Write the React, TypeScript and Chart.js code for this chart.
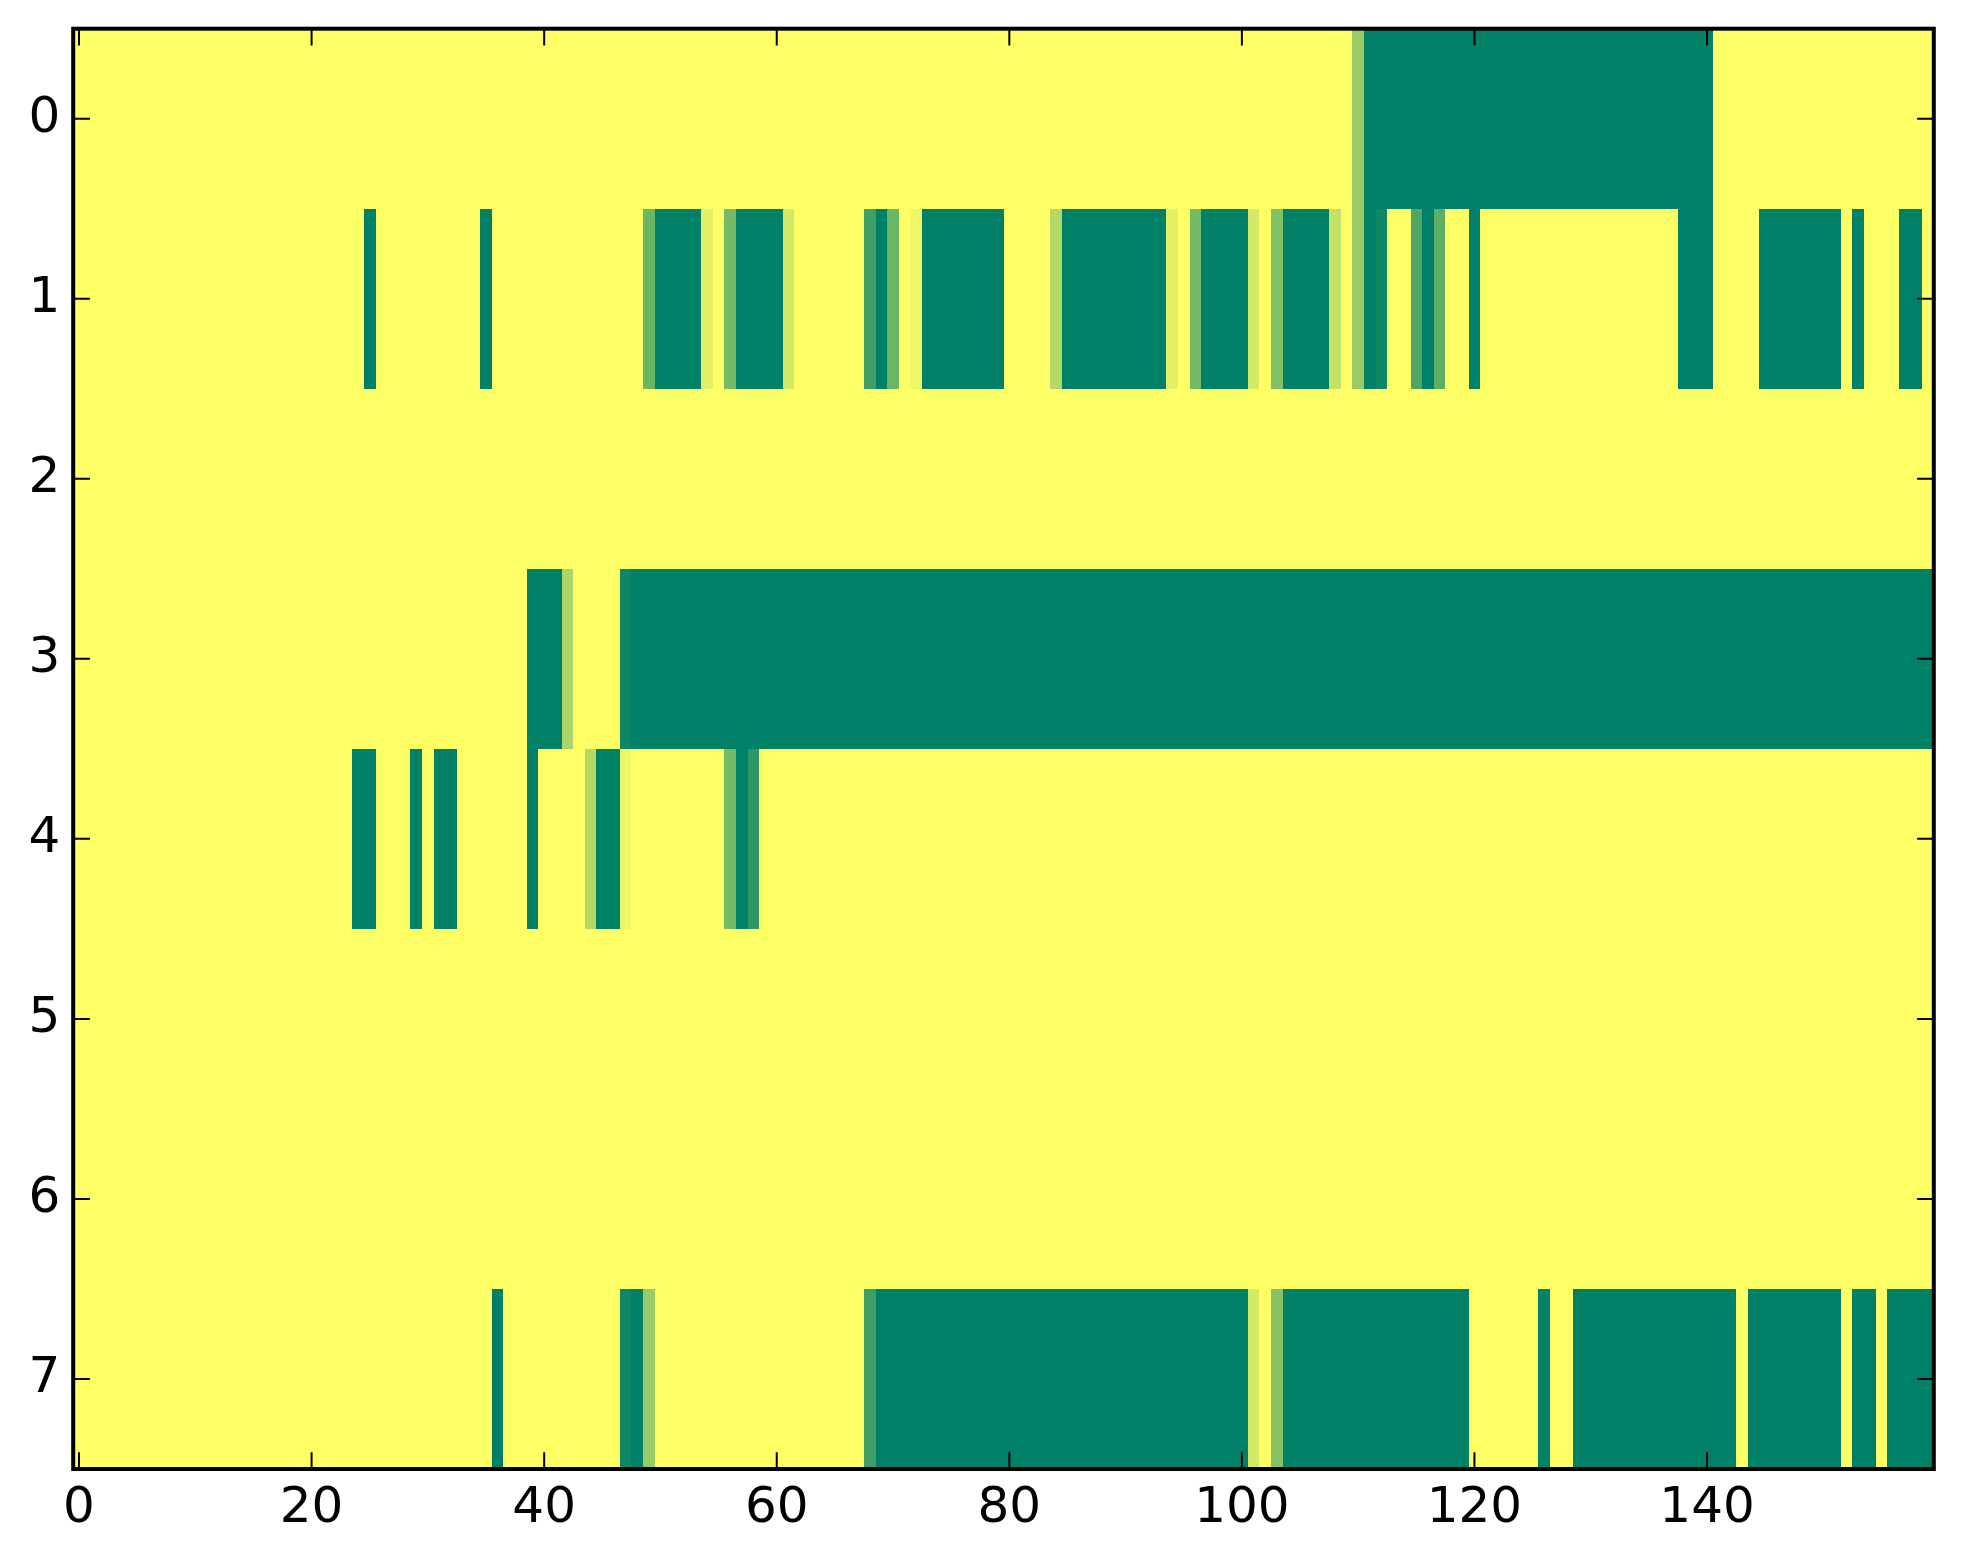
import React, { useEffect, useRef } from "react";
import { Chart, registerables } from "chart.js";

Chart.register(...registerables);

// ---- data ----
const X_TICKS = [0, 20, 40, 60, 80, 100, 120, 140];
const Y_TICKS = [0, 1, 2, 3, 4, 5, 6, 7];
const N_COLS = 160;

const row0 = [
  1,1,1,1,1,1,1,1,1,1,1,1,1,1,1,1,1,1,1,1,
  1,1,1,1,1,1,1,1,1,1,1,1,1,1,1,1,1,1,1,1,
  1,1,1,1,1,1,1,1,1,1,1,1,1,1,1,1,1,1,1,1,
  1,1,1,1,1,1,1,1,1,1,1,1,1,1,1,1,1,1,1,1,
  1,1,1,1,1,1,1,1,1,1,1,1,1,1,1,1,1,1,1,1,
  1,1,1,1,1,1,1,1,1,1,0.6,0,0,0,0,0,0,0,0,0,
  0,0,0,0,0,0,0,0,0,0,0,0,0,0,0,0,0,0,0,0,
  0,1,1,1,1,1,1,1,1,1,1,1,1,1,1,1,1,1,1,1,
];

const row1 = [
  1,1,1,1,1,1,1,1,1,1,1,1,1,1,1,1,1,1,1,1,
  1,1,1,1,1,0,1,1,1,1,1,1,1,1,1,0,1,1,1,1,
  1,1,1,1,1,1,1,1,1,0.42,0,0,0,0,0.89,1,0.46,0,0,0,
  0,0.83,1,1,1,1,1,1,0.25,0,0.42,1,0.94,0,0,0,0,0,0,0,
  1,1,1,1,0.7,0,0,0,0,0,0,0,0,0,0.89,1,0.46,0,0,0,
  0,0.83,1,0.51,0,0,0,0,0.77,1,0.6,0,0.06,1,1,0.31,0,0.36,1,1,
  0,1,1,1,1,1,1,1,1,1,1,1,1,1,1,1,1,1,0,0,
  0,1,1,1,1,0,0,0,0,0,0,0,1,0,1,1,1,0,0,1,
];

const row2 = [
  1,1,1,1,1,1,1,1,1,1,1,1,1,1,1,1,1,1,1,1,
  1,1,1,1,1,1,1,1,1,1,1,1,1,1,1,1,1,1,1,1,
  1,1,1,1,1,1,1,1,1,1,1,1,1,1,1,1,1,1,1,1,
  1,1,1,1,1,1,1,1,1,1,1,1,1,1,1,1,1,1,1,1,
  1,1,1,1,1,1,1,1,1,1,1,1,1,1,1,1,1,1,1,1,
  1,1,1,1,1,1,1,1,1,1,1,1,1,1,1,1,1,1,1,1,
  1,1,1,1,1,1,1,1,1,1,1,1,1,1,1,1,1,1,1,1,
  1,1,1,1,1,1,1,1,1,1,1,1,1,1,1,1,1,1,1,1,
];

const row3 = [
  1,1,1,1,1,1,1,1,1,1,1,1,1,1,1,1,1,1,1,1,
  1,1,1,1,1,1,1,1,1,1,1,1,1,1,1,1,1,1,1,0,
  0,0,0.67,1,1,1,1,0.05,0,0,0,0,0,0,0,0,0,0,0,0,
  0,0,0,0,0,0,0,0,0,0,0,0,0,0,0,0,0,0,0,0,
  0,0,0,0,0,0,0,0,0,0,0,0,0,0,0,0,0,0,0,0,
  0,0,0,0,0,0,0,0,0,0,0,0,0,0,0,0,0,0,0,0,
  0,0,0,0,0,0,0,0,0,0,0,0,0,0,0,0,0,0,0,0,
  0,0,0,0,0,0,0,0,0,0,0,0,0,0,0,0,0,0,0,0,
];

const row4 = [
  1,1,1,1,1,1,1,1,1,1,1,1,1,1,1,1,1,1,1,1,
  1,1,1,1,0,0,1,1,1,0,1,0,0,1,1,1,1,1,1,0,
  1,1,1,1,0.7,0,0,0.93,1,1,1,1,1,1,1,1,0.46,0,0.18,1,
  1,1,1,1,1,1,1,1,1,1,1,1,1,1,1,1,1,1,1,1,
  1,1,1,1,1,1,1,1,1,1,1,1,1,1,1,1,1,1,1,1,
  1,1,1,1,1,1,1,1,1,1,1,1,1,1,1,1,1,1,1,1,
  1,1,1,1,1,1,1,1,1,1,1,1,1,1,1,1,1,1,1,1,
  1,1,1,1,1,1,1,1,1,1,1,1,1,1,1,1,1,1,1,1,
];

const row5 = [
  1,1,1,1,1,1,1,1,1,1,1,1,1,1,1,1,1,1,1,1,
  1,1,1,1,1,1,1,1,1,1,1,1,1,1,1,1,1,1,1,1,
  1,1,1,1,1,1,1,1,1,1,1,1,1,1,1,1,1,1,1,1,
  1,1,1,1,1,1,1,1,1,1,1,1,1,1,1,1,1,1,1,1,
  1,1,1,1,1,1,1,1,1,1,1,1,1,1,1,1,1,1,1,1,
  1,1,1,1,1,1,1,1,1,1,1,1,1,1,1,1,1,1,1,1,
  1,1,1,1,1,1,1,1,1,1,1,1,1,1,1,1,1,1,1,1,
  1,1,1,1,1,1,1,1,1,1,1,1,1,1,1,1,1,1,1,1,
];

const row6 = [
  1,1,1,1,1,1,1,1,1,1,1,1,1,1,1,1,1,1,1,1,
  1,1,1,1,1,1,1,1,1,1,1,1,1,1,1,1,1,1,1,1,
  1,1,1,1,1,1,1,1,1,1,1,1,1,1,1,1,1,1,1,1,
  1,1,1,1,1,1,1,1,1,1,1,1,1,1,1,1,1,1,1,1,
  1,1,1,1,1,1,1,1,1,1,1,1,1,1,1,1,1,1,1,1,
  1,1,1,1,1,1,1,1,1,1,1,1,1,1,1,1,1,1,1,1,
  1,1,1,1,1,1,1,1,1,1,1,1,1,1,1,1,1,1,1,1,
  1,1,1,1,1,1,1,1,1,1,1,1,1,1,1,1,1,1,1,1,
];

const row7 = [
  1,1,1,1,1,1,1,1,1,1,1,1,1,1,1,1,1,1,1,1,
  1,1,1,1,1,1,1,1,1,1,1,1,1,1,1,1,0,1,1,1,
  1,1,1,1,1,1,1,0.06,0,0.59,1,1,1,1,1,1,1,1,1,1,
  1,1,1,1,1,1,1,1,0.24,0,0,0,0,0,0,0,0,0,0,0,
  0,0,0,0,0,0,0,0,0,0,0,0,0,0,0,0,0,0,0,0,
  0,0.83,1,0.53,0,0,0,0,0,0,0,0,0,0,0,0,0,0,0,0,
  1,1,1,1,1,1,0,1,1,0,0,0,0,0,0,0,0,0,0,0,
  0,0,0,1,0,0,0,0,0,0,0,0,1,0,0,1,0,0,0,0,
];

const ROWS = [row0, row1, row2, row3, row4, row5, row6, row7];

// ---- styling helpers ----
function summer(v: number): string {
  const r = Math.round(255 * v);
  const g = Math.round(255 * (0.5 + 0.5 * v));
  return `rgb(${r},${g},102)`;
}

const W = 1963;
const H = 1564;
const FONT = { family: "'DejaVu Sans', sans-serif", size: 50 };
const TICK_LEN = 16.7;

function zeroPadding(s: any) {
  s.paddingTop = 0;
  s.paddingBottom = 0;
  s.paddingLeft = 0;
  s.paddingRight = 0;
}

const heatmapPlugin = {
  id: "heatmapCells",
  beforeDatasetsDraw(chart: any) {
    const { ctx, chartArea, scales } = chart;
    const xs = scales.x;
    const ys = scales.y;
    const pts = chart.data.datasets[0].data as { x: number; y: number; v: number }[];
    ctx.save();
    ctx.beginPath();
    ctx.rect(chartArea.left, chartArea.top, chartArea.right - chartArea.left, chartArea.bottom - chartArea.top);
    ctx.clip();
    for (const p of pts) {
      const x0 = Math.round(xs.getPixelForValue(p.x - 0.5));
      const x1 = Math.round(xs.getPixelForValue(p.x + 0.5));
      const y0 = Math.round(ys.getPixelForValue(p.y - 0.5));
      const y1 = Math.round(ys.getPixelForValue(p.y + 0.5));
      ctx.fillStyle = summer(p.v);
      ctx.fillRect(Math.min(x0, x1), Math.min(y0, y1), Math.abs(x1 - x0), Math.abs(y1 - y0));
    }
    ctx.restore();
  },
  afterDraw(chart: any) {
    const { ctx, chartArea, scales } = chart;
    const xs = scales.x;
    const ys = scales.y;
    const { left, right, top, bottom } = chartArea;
    ctx.save();
    ctx.strokeStyle = "#000";
    ctx.lineWidth = 2;
    ctx.beginPath();
    for (const v of X_TICKS) {
      const px = xs.getPixelForValue(v);
      ctx.moveTo(px, bottom);
      ctx.lineTo(px, bottom - TICK_LEN);
      ctx.moveTo(px, top);
      ctx.lineTo(px, top + TICK_LEN);
    }
    for (const v of Y_TICKS) {
      const py = ys.getPixelForValue(v);
      ctx.moveTo(left, py);
      ctx.lineTo(left + TICK_LEN, py);
      ctx.moveTo(right, py);
      ctx.lineTo(right - TICK_LEN, py);
    }
    ctx.stroke();
    ctx.lineWidth = 4;
    ctx.strokeRect(left, top, right - left, bottom - top);
    ctx.restore();
  },
};

export default function App() {
  const canvasRef = useRef<HTMLCanvasElement | null>(null);

  useEffect(() => {
    const canvas = canvasRef.current;
    if (!canvas) return;
    const cells: { x: number; y: number; v: number }[] = [];
    ROWS.forEach((row, r) => {
      for (let c = 0; c < N_COLS; c++) cells.push({ x: c, y: r, v: row[c] });
    });

    const chart = new Chart(canvas, {
      type: "scatter",
      data: {
        datasets: [
          {
            data: cells as any,
            pointRadius: 0,
            pointHoverRadius: 0,
            showLine: false,
          },
        ],
      },
      options: {
        animation: false,
        responsive: false,
        devicePixelRatio: 1,
        events: [],
        layout: { padding: { top: 28.7, right: 29.2, left: 0, bottom: 0 } },
        plugins: { legend: { display: false }, tooltip: { enabled: false } },
        scales: {
          x: {
            type: "linear",
            position: "bottom",
            min: -0.5,
            max: 159.5,
            grid: { display: false, drawTicks: false },
            border: { display: false },
            ticks: { font: FONT, color: "#000", padding: 10, maxRotation: 0, autoSkip: false },
            afterBuildTicks: (s: any) => {
              s.ticks = X_TICKS.map((v) => ({ value: v }));
            },
            afterFit: (s: any) => {
              s.height = H - 1469;
              zeroPadding(s);
            },
          },
          y: {
            type: "linear",
            position: "left",
            reverse: true,
            min: -0.5,
            max: 7.5,
            grid: { display: false, drawTicks: false },
            border: { display: false },
            ticks: { font: FONT, color: "#000", padding: 13, autoSkip: false },
            afterBuildTicks: (s: any) => {
              s.ticks = Y_TICKS.map((v) => ({ value: v }));
            },
            afterFit: (s: any) => {
              s.width = 73.2;
              zeroPadding(s);
            },
          },
        },
      },
      plugins: [heatmapPlugin],
    } as any);

    return () => chart.destroy();
  }, []);

  return (
    <div style={{ position: "absolute", left: 0, top: 0, width: W, height: H, background: "#fff" }}>
      <canvas
        ref={canvasRef}
        width={W}
        height={H}
        style={{ display: "block", width: W, height: H }}
      />
    </div>
  );
}
